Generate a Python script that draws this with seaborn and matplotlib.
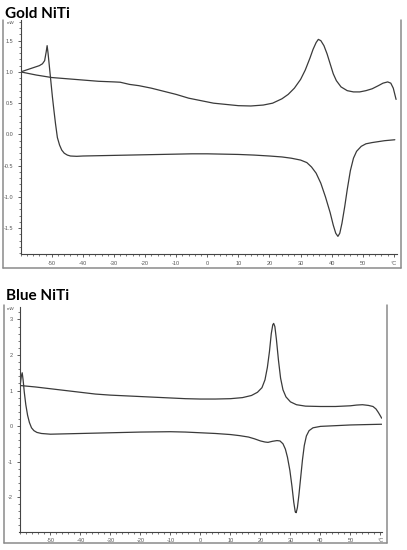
import matplotlib
matplotlib.use("Agg")
import matplotlib.pyplot as plt
from matplotlib.lines import Line2D
from matplotlib.ticker import MultipleLocator, FixedLocator, FixedFormatter
import seaborn as sns
import pandas as pd

# ---------------- data ----------------
gold_heat_T = [-60, -55, -50, -45, -40, -35, -30, -28, -25, -22, -18, -14, -10, -6, -2, 2, 6, 10, 14,
               18, 21, 24, 26, 28, 30, 31.5, 33, 34, 35, 35.7, 36.5, 37.5, 38.5, 39.5, 40.5, 41.5,
               43, 45, 47, 49, 51, 53, 55, 56.5, 58, 59, 59.8, 60.3, 60.7]
gold_heat_mW = [1.0, 0.95, 0.91, 0.89, 0.87, 0.85, 0.84, 0.835, 0.80, 0.78, 0.74, 0.69, 0.64, 0.58,
                0.54, 0.50, 0.48, 0.46, 0.455, 0.47, 0.50, 0.57, 0.64, 0.74, 0.88, 1.03, 1.22, 1.36,
                1.47, 1.52, 1.50, 1.42, 1.29, 1.13, 0.97, 0.86, 0.76, 0.70, 0.68, 0.68, 0.70, 0.73,
                0.78, 0.82, 0.84, 0.82, 0.74, 0.64, 0.56]

gold_cool_T = [-60, -57, -54, -53, -52.3, -51.8, -51.5, -51.2, -50.8, -50.3, -49.8, -49.3, -48.8,
               -48.2, -47.5, -46.8, -46, -45, -44, -42, -40, -35, -30, -25, -20, -15, -10, -5, 0,
               5, 10, 15, 20, 24, 27, 30, 32, 33.5, 35, 36.5, 38, 39.5, 40.5, 41.3, 42, 42.6, 43.3,
               44.2, 45, 46, 47, 48, 49.5, 51, 53, 55, 57, 60.3]
gold_cool_mW = [1.0, 1.05, 1.10, 1.13, 1.18, 1.32, 1.42, 1.30, 1.10, 0.85, 0.60, 0.38, 0.17, -0.05,
                -0.17, -0.25, -0.30, -0.33, -0.345, -0.35, -0.345, -0.34, -0.335, -0.33, -0.325,
                -0.32, -0.315, -0.31, -0.31, -0.315, -0.32, -0.33, -0.345, -0.36, -0.38, -0.41,
                -0.45, -0.52, -0.62, -0.78, -1.0, -1.25, -1.45, -1.58, -1.63, -1.58, -1.42, -1.15,
                -0.88, -0.58, -0.38, -0.27, -0.19, -0.15, -0.13, -0.115, -0.10, -0.085]

blue_heat_T = [-60, -55, -50, -45, -40, -35, -30, -25, -20, -15, -10, -5, 0, 5, 10, 14, 17, 19,
               20.5, 21.5, 22.3, 23, 23.6, 24.1, 24.4, 24.8, 25.3, 26, 26.7, 27.5, 28.5, 30, 32,
               35, 40, 45, 50, 52, 54, 56, 57.5, 58.5, 59.3, 60, 60.4]
blue_heat_mW = [1.14, 1.10, 1.05, 1.00, 0.95, 0.90, 0.87, 0.85, 0.83, 0.81, 0.79, 0.77, 0.76,
                0.76, 0.77, 0.80, 0.86, 0.95, 1.08, 1.3, 1.65, 2.1, 2.6, 2.85, 2.89, 2.8, 2.45,
                1.85, 1.35, 1.02, 0.82, 0.68, 0.60, 0.56, 0.55, 0.55, 0.57, 0.59, 0.60, 0.58,
                0.55, 0.48, 0.38, 0.28, 0.22]

blue_cool_T = [-60, -59.7, -59.4, -59.1, -58.7, -58.2, -57.6, -57, -56.3, -55.5, -54.5, -53, -50,
               -45, -40, -35, -30, -25, -20, -15, -10, -5, 0, 5, 10, 13, 16, 18, 20, 21.5, 22.5,
               24, 25.5, 26.5, 27.5, 28.3, 29, 29.8, 30.5, 31.1, 31.6, 31.9, 32.3, 32.8, 33.4, 34,
               34.6, 35.3, 36.2, 37.5, 40, 45, 50, 55, 60.4]
blue_cool_mW = [1.2, 1.4, 1.5, 1.3, 0.95, 0.6, 0.3, 0.1, -0.05, -0.13, -0.18, -0.21, -0.23, -0.22,
                -0.21, -0.2, -0.19, -0.18, -0.17, -0.165, -0.16, -0.17, -0.19, -0.21, -0.24,
                -0.27, -0.31, -0.36, -0.42, -0.45, -0.46, -0.43, -0.41, -0.42, -0.5, -0.65, -0.88,
                -1.25, -1.7, -2.15, -2.42, -2.44, -2.3, -1.95, -1.45, -0.95, -0.55, -0.28, -0.13,
                -0.05, -0.01, 0.01, 0.03, 0.04, 0.05]

x_tick_values = [-50, -40, -30, -20, -10, 0, 10, 20, 30, 40, 50, 60]
x_tick_labels = ["-50", "-40", "-30", "-20", "-10", "0", "10", "20", "30", "40", "50", "°C"]
gold_y_ticks = [-1.5, -1.0, -0.5, 0.0, 0.5, 1.0, 1.5]
blue_y_ticks = [-2, -1, 0, 1, 2, 3]
titles = ["Gold NiTi", "Blue NiTi"]
unit_label = "mW"

# ---------------- figure ----------------
sns.set_theme(style="white")
plt.rcParams['font.family'] = ['Liberation Sans', 'DejaVu Sans']

W, H = 407, 550
fig = plt.figure(figsize=(W / 100, H / 100), dpi=100)
fig.patch.set_facecolor("white")

def px_axes(l, t, r, b):
    return fig.add_axes([l / W, 1 - b / H, (r - l) / W, (b - t) / H])

ax1 = px_axes(20.5, 20, 396.7, 254.5)
ax2 = px_axes(19.5, 306.7, 381.7, 531.5)

line_color = "#3a3a3a"
tick_color = "#555555"

def draw(ax, T1, V1, T2, V2):
    d1 = pd.DataFrame({"T": T1, "mW": V1})
    d2 = pd.DataFrame({"T": T2, "mW": V2})
    sns.lineplot(data=d1, x="T", y="mW", sort=False, estimator=None, ax=ax,
                 color=line_color, lw=0.9)
    sns.lineplot(data=d2, x="T", y="mW", sort=False, estimator=None, ax=ax,
                 color=line_color, lw=0.9)

draw(ax1, gold_heat_T, gold_heat_mW, gold_cool_T, gold_cool_mW)
draw(ax2, blue_heat_T, blue_heat_mW, blue_cool_T, blue_cool_mW)

ax1.set_xlim(-60.06, 60.9)
ax1.set_ylim(-1.92, 1.83)
ax2.set_xlim(-60.3, 60.4)
ax2.set_ylim(-2.97, 3.36)

for ax, yt, fmt, ystep in [(ax1, gold_y_ticks, "{:.1f}", 0.1), (ax2, blue_y_ticks, "{:d}", 0.2)]:
    ax.set_facecolor("none")
    ax.set_xlabel("")
    ax.set_ylabel("")
    for s in ["top", "right"]:
        ax.spines[s].set_visible(False)
    for s in ["left", "bottom"]:
        ax.spines[s].set_color("#444444")
        ax.spines[s].set_linewidth(0.8)
    ax.xaxis.set_major_locator(FixedLocator(x_tick_values))
    ax.xaxis.set_major_formatter(FixedFormatter(x_tick_labels))
    ax.xaxis.set_minor_locator(MultipleLocator(2))
    ax.yaxis.set_major_locator(FixedLocator(yt))
    ax.yaxis.set_major_formatter(FixedFormatter([fmt.format(v) for v in yt]))
    ax.yaxis.set_minor_locator(MultipleLocator(ystep))
    ax.tick_params(axis="both", which="major", direction="out", length=2.5, width=0.6,
                   color="#444444", labelsize=4, labelcolor=tick_color, pad=2.5)
    ax.tick_params(axis="both", which="minor", direction="out", length=1.3, width=0.5,
                   color="#444444")
    ax.tick_params(axis="both", which="both", bottom=True, left=True)
    ax.grid(False)

# unit labels
fig.text(10.5 / W, 1 - 22.5 / H, unit_label, fontsize=3.2, color=tick_color, ha="center", va="center")
fig.text(10.5 / W, 1 - 309 / H, unit_label, fontsize=3.2, color=tick_color, ha="center", va="center")

# titles
fig.text(5 / W, 1 - 17.5 / H, titles[0], fontsize=11, fontweight="bold", family="Lato",
         ha="left", va="baseline", color="black")
fig.text(6.5 / W, 1 - 299.5 / H, titles[1], fontsize=11, fontweight="bold", family="Lato",
         ha="left", va="baseline", color="black")

# outer frames
frame_color = "#8a8a8a"
def fline(x0, y0, x1, y1):
    fig.add_artist(Line2D([x0 / W, x1 / W], [1 - y0 / H, 1 - y1 / H],
                          transform=fig.transFigure, color=frame_color, lw=1.1))

fline(3.3, 20, 3.3, 267.5)
fline(3.3, 267.5, 400.7, 267.5)
fline(400.7, 20, 400.7, 267.5)

fline(4, 305, 4, 543.3)
fline(4, 543.3, 386.7, 543.3)
fline(386.7, 305, 386.7, 543.3)

fig.savefig("out.png", dpi=100, facecolor="white")
